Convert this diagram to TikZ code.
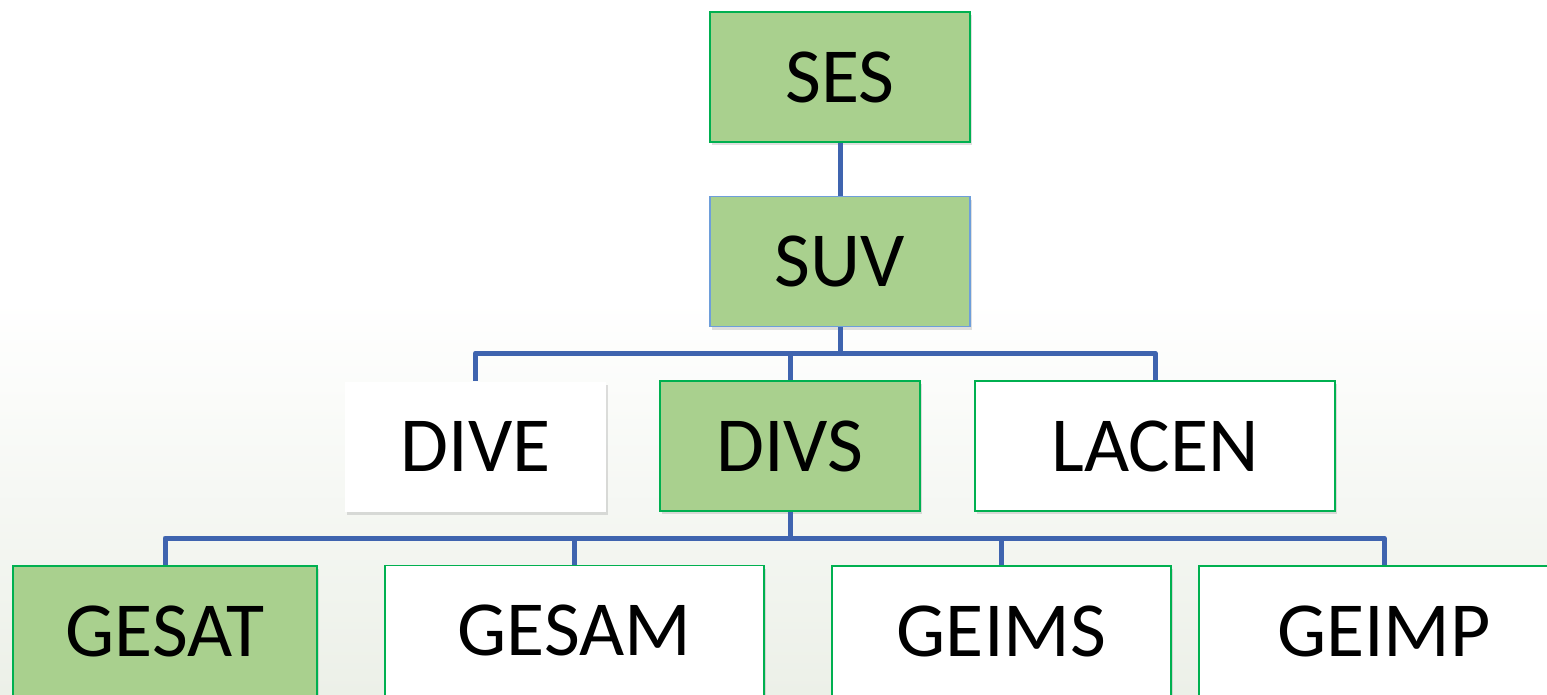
\documentclass[tikz,border=0pt]{standalone}
\usepackage{fontspec}
\setmainfont{Carlito}
\usetikzlibrary{shadows}
\definecolor{boxgreen}{RGB}{169,208,142}
\definecolor{edgegreen}{RGB}{0,176,80}
\definecolor{edgeblue}{RGB}{110,158,218}
\definecolor{linkblue}{RGB}{63,100,175}
\definecolor{bgbottom}{RGB}{236,240,232}
\tikzset{
  box/.style={rectangle, draw=edgegreen, line width=1.2pt, fill=white,
    minimum height=130pt, inner sep=0pt, text height=50pt, text depth=0pt,
    font=\fontsize{78}{90}\selectfont,
    drop shadow={opacity=0.25, shadow xshift=2pt, shadow yshift=-3pt}},
  greenbox/.style={box, fill=boxgreen},
  link/.style={draw=linkblue, line width=5pt, line join=round}
}
\begin{document}
\begin{tikzpicture}[x=1pt,y=-1pt]
\useasboundingbox (0,0) rectangle (1547,694);
\clip (0,0) rectangle (1547,694);
\fill[white] (0,0) rectangle (1547,300);
\shade[top color=white, bottom color=bgbottom] (0,300) rectangle (1547,694);

\node[greenbox, minimum width=260pt] (SES) at (840,77) {SES};
\node[greenbox, draw=edgeblue, minimum width=260pt] (SUV) at (840,261.5) {SUV};
\node[box, draw=none, minimum width=261pt] (DIVE) at (475.5,446.5) {DIVE};
\node[greenbox, minimum width=260pt] (DIVS) at (790,446) {DIVS};
\node[box, minimum width=360pt] (LACEN) at (1155,446) {LACEN};
\node[greenbox, minimum width=304pt] (GESAT) at (165,631) {GESAT};
\node[box, minimum width=379pt] (GESAM) at (574.5,630.5) {GESAM};
\node[box, minimum width=339pt] (GEIMS) at (1001.5,631) {GEIMS};
\node[box, minimum width=370pt] (GEIMP) at (1384,631) {GEIMP};

\draw[link] (SES.south) -- (SUV.north);
\coordinate (b1) at (840,353);
\draw[link] (SUV.south) -- (b1);
\draw[link] (b1) -| (DIVE.north);
\draw[link] (b1) -| (DIVS.north);
\draw[link] (b1) -| (LACEN.north);
\coordinate (b2) at (790,538);
\draw[link] (DIVS.south) -- (b2);
\draw[link] (b2) -| (GESAT.north);
\draw[link] (b2) -| (GESAM.north);
\draw[link] (b2) -| (GEIMS.north);
\draw[link] (b2) -| (GEIMP.north);
\end{tikzpicture}
\end{document}
